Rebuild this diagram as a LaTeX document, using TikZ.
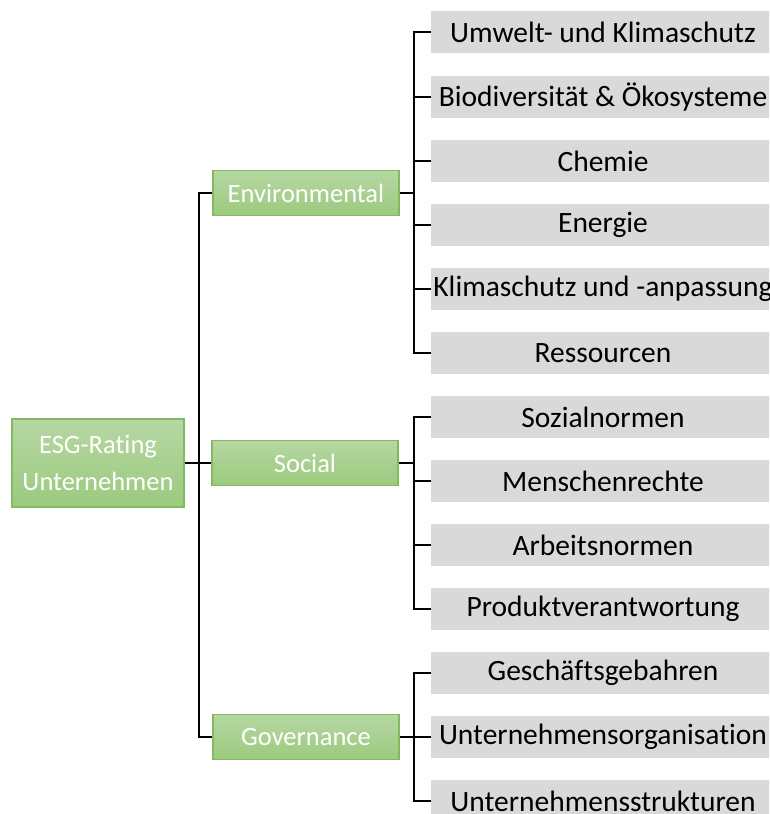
\documentclass[tikz,border=0pt]{standalone}
\usepackage{fontspec}
\setmainfont{Carlito}[Ligatures=NoCommon]
\usepackage{xcolor}
\usetikzlibrary{positioning}
\definecolor{leafgray}{HTML}{D9D9D9}
\definecolor{greentop}{HTML}{B6D7A3}
\definecolor{greenbot}{HTML}{9BCA7E}
\definecolor{greenline}{HTML}{82BA5F}
\tikzset{
	topic/.style={draw=greenline, line width=1.3pt, top color=greentop, bottom color=greenbot,
		text=white, font=\fontsize{26.5}{37}\selectfont, inner sep=0pt, align=center},
	leaf/.style={fill=leafgray, minimum width=344pt, minimum height=42pt, inner sep=0pt,
		font=\fontsize{29.5}{34}\selectfont},
	branch/.style={line width=1.3pt, black},
}
\begin{document}
\begin{tikzpicture}[x=1pt, y=-1pt]
		\useasboundingbox (0,0) rectangle (769,814);
		\clip (0,0) rectangle (769,814);
		% main boxes
		\node [topic, minimum width=172pt, minimum height=88pt] (root) at (98,463) {ESG-Rating\\Unternehmen};
		\node [topic, minimum width=186pt, minimum height=45pt] (env) at (306,193) {Environmental};
		\node [topic, minimum width=186pt, minimum height=45pt] (soc) at (305,463) {Social};
		\node [topic, minimum width=186pt, minimum height=45pt] (gov) at (306,737) {Governance};
		% environmental
		\node [leaf] (e1) at (603,32) {Umwelt- und Klimaschutz};
		\node [leaf] (e2) at (603,97) {Biodiversität \& Ökosysteme};
		\node [leaf] (e3) at (603,161) {Chemie};
		\node [leaf] (e4) at (603,225) {Energie};
		\node [leaf] (e5) at (603,289) {Klimaschutz und -anpassung};
		\node [leaf] (e6) at (603,353) {Ressourcen};
		% social
		\node [leaf] (s1) at (603,417) {Sozialnormen};
		\node [leaf] (s2) at (603,481) {Menschenrechte};
		\node [leaf] (s3) at (603,545) {Arbeitsnormen};
		\node [leaf] (s4) at (603,609) {Produktverantwortung};
		% governance
		\node [leaf] (g1) at (603,673) {Geschäftsgebahren};
		\node [leaf] (g2) at (603,737) {Unternehmensorganisation};
		\node [leaf] (g3) at (603,801) {Unternehmensstrukturen};
		% trunk
		\coordinate (trunk) at (199,463);
		\draw [branch] (root.east) -- (trunk);
		\draw [branch] (env.west) -| (trunk) |- (gov.west);
		\draw [branch] (trunk) -- (soc.west);
		% branches
		\coordinate (ebr) at (414,193);
		\coordinate (sbr) at (414,463);
		\coordinate (gbr) at (414,737);
		\draw [branch] (env.east) -- (ebr);
		\draw [branch] (soc.east) -- (sbr);
		\draw [branch] (gov.east) -- (gbr);
		\draw [branch] (e1.west) -| (ebr) |- (e6.west);
		\draw [branch] (s1.west) -| (sbr) |- (s4.west);
		\draw [branch] (g1.west) -| (gbr) |- (g3.west);
		\foreach \n in {e2,e3,e4,e5,s2,s3,g2}
			\draw [branch] (ebr |- \n.west) -- (\n.west);
	\end{tikzpicture}
\end{document}
